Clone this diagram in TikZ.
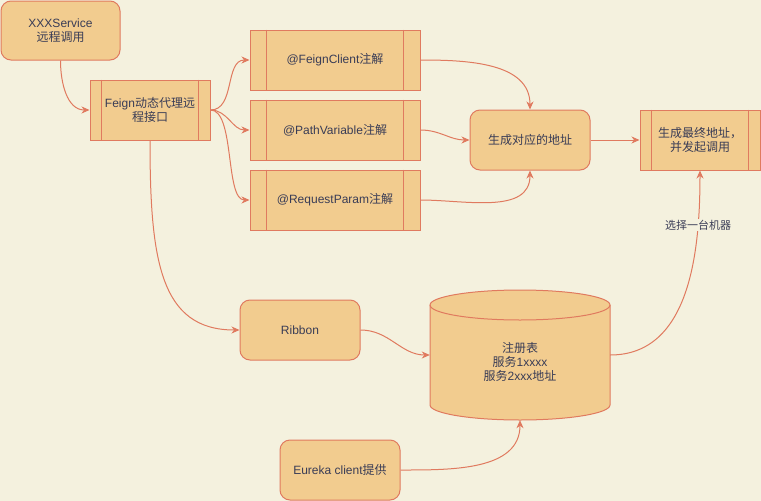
\documentclass[tikz,border=0pt]{standalone}
\usepackage{fontspec}
\setmainfont{Liberation Sans}
\newfontfamily\cjk{Noto Sans CJK SC}
\usetikzlibrary{arrows.meta,calc}
\definecolor{bgc}{HTML}{F4F1DE}
\definecolor{fillc}{HTML}{F2CC8F}
\definecolor{strokec}{HTML}{E07A5F}
\definecolor{txtc}{HTML}{393C56}
\newcommand\plines[2]{\draw[strokec,line width=1pt] ($(#1.north west)+(#2,0)$) -- ($(#1.south west)+(#2,0)$) ($(#1.north east)+(-#2,0)$) -- ($(#1.south east)+(-#2,0)$);}
\begin{document}
\begin{tikzpicture}[x=1pt,y=1pt,
  font=\fontsize{12}{14}\selectfont, text=txtc,
  box/.style={draw=strokec, fill=fillc, line width=1pt, inner sep=0pt, align=center},
  rbox/.style={box, rounded corners=10pt},
  conn/.style={draw=strokec, line width=1pt, -{Stealth[length=8pt,width=7pt,inset=2.5pt]}},
]
\fill[bgc] (0,0) rectangle (761,-501);
\useasboundingbox (0,0) rectangle (761,-501);

\node[rbox, minimum width=119, minimum height=59] (svc) at (60.5,-30.5) {XXXService\\{\cjk 远程调用}};
\node[box, minimum width=120, minimum height=60] (feign) at (150,-110) {Feign{\cjk 动态代理远}\\{\cjk 程接口}};
\plines{feign}{12}
\node[box, minimum width=170, minimum height=60] (fc) at (335,-60) {@FeignClient{\cjk 注解}};
\plines{fc}{17}
\node[box, minimum width=170, minimum height=60] (pv) at (335,-130) {@PathVariable{\cjk 注解}};
\plines{pv}{17}
\node[box, minimum width=170, minimum height=60] (rp) at (335,-200) {@RequestParam{\cjk 注解}};
\plines{rp}{17}
\node[rbox, minimum width=120, minimum height=60, font=\cjk\fontsize{12}{14}\selectfont] (gen) at (530,-140) {生成对应的地址};
\node[box, minimum width=120, minimum height=60, font=\cjk\fontsize{12}{14}\selectfont] (fin) at (700,-140) {生成最终地址，\\并发起调用};
\plines{fin}{12}
\node[rbox, minimum width=120, minimum height=60] (rib) at (300,-330) {Ribbon};
\node[rbox, minimum width=120, minimum height=60] (eur) at (340,-470) {Eureka client{\cjk 提供}};

% cylinder
\draw[strokec, fill=fillc, line width=1pt] (430,-305) -- (430,-405) arc[start angle=180,end angle=360,x radius=90,y radius=15] -- (610,-305) arc[start angle=0,end angle=180,x radius=90,y radius=15] -- cycle;
\draw[strokec, line width=1pt] (430,-305) arc[start angle=180,end angle=360,x radius=90,y radius=15];
\node[minimum width=180, minimum height=130, inner sep=0pt] (db) at (520,-355) {};
\node[align=center, inner sep=0pt] (dbtext) at (520,-362) {{\cjk 注册表}\\{\cjk 服务}1xxxx\\{\cjk 服务}2xxx{\cjk 地址}};

% connectors
\draw[conn] (svc.south) to[out=-90,in=180] (feign.west);
\draw[conn] (feign.east) to[out=0,in=180] (fc.west);
\draw[conn] (feign.east) to[out=0,in=180] (pv.west);
\draw[conn] (feign.east) .. controls (235,-110) and (225,-200) .. (rp.west);
\draw[conn] (feign.south) .. controls (150,-260) and (160,-330) .. (rib.west);
\draw[conn] (fc.east) to[out=0,in=90] (gen.north);
\draw[conn] (pv.east) to[out=0,in=180] (gen.west);
\draw[conn] (rp.east) to[out=0,in=-90] (gen.south);
\draw[conn] (gen.east) -- (fin.west);
\draw[conn] (rib.east) to[out=0,in=180] (db.west);
\draw[conn] (eur.east) to[out=0,in=-90] (db.south);
\draw[conn] (db.east) to[out=0,in=-90] (fin.south);
\node[fill=bgc, inner sep=1pt, font=\cjk\fontsize{11}{13}\selectfont] (lab) at (698,-225) {选择一台机器};
\end{tikzpicture}
\end{document}
